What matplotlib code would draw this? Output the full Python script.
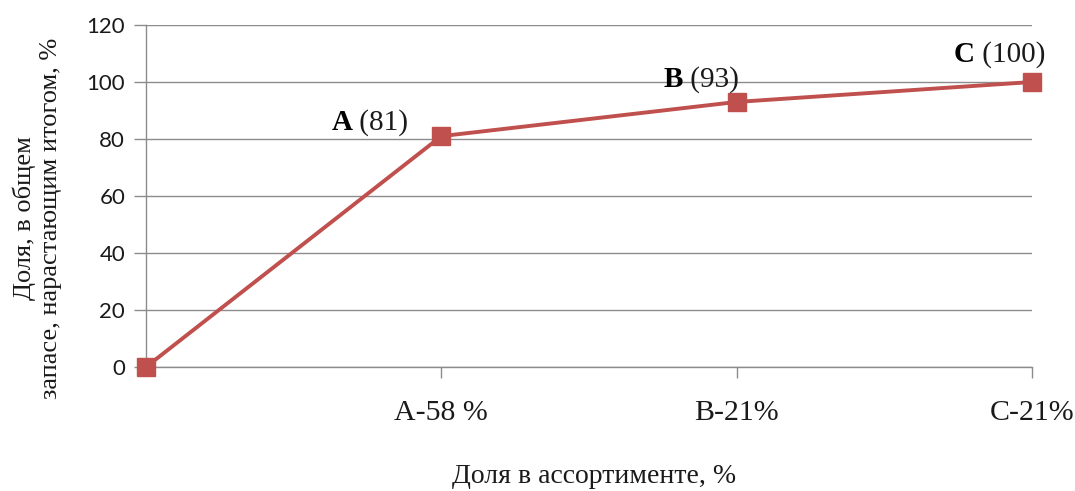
import matplotlib
matplotlib.use("Agg")
import matplotlib.pyplot as plt

# Cumulative share of stock vs. share of assortment (ABC analysis)
categories = ["", "A-58 %", "B-21%", "C-21%"]
cumulative_share = [0, 81, 93, 100]
group_names = ["", "A", "B", "C"]
y_ticks = [0, 20, 40, 60, 80, 100, 120]

line_color = "#C0504D"
grid_color = "#8C8C8C"
text_color = "#1A1A1A"
serif = "Liberation Serif"
sans = "Lato"

fig = plt.figure(figsize=(10.75, 4.91), dpi=100)
ax = fig.add_axes([146 / 1075, 1 - 367 / 491, (1032 - 146) / 1075, (367 - 25) / 491])

x = list(range(len(categories)))
ax.plot(x, cumulative_share, color=line_color, linewidth=2.8,
        marker="s", markersize=13.5, markeredgecolor=line_color,
        markerfacecolor=line_color, zorder=3, clip_on=False)

ax.set_xlim(0, len(categories) - 1)
ax.set_ylim(0, 120)
ax.set_yticks(y_ticks)
ax.set_yticklabels([str(v) for v in y_ticks], fontfamily=sans, fontsize=16)
ax.set_xticks(x[1:])
ax.set_xticklabels(categories[1:], fontfamily=serif, fontsize=21.5)

ax.grid(axis="y", color=grid_color, linewidth=1.0)
ax.set_axisbelow(True)
for side in ("top", "right"):
    ax.spines[side].set_visible(False)
for side in ("left", "bottom"):
    ax.spines[side].set_color(grid_color)
    ax.spines[side].set_linewidth(1.0)
ax.tick_params(axis="y", length=9, width=1.0, color=grid_color, pad=6, labelcolor=text_color)
ax.tick_params(axis="x", length=8, width=1.0, color=grid_color, pad=16, labelcolor=text_color)

# Point labels: bold group letter followed by the cumulative value
offsets = {1: (-33, 6), 2: (2, 15), 3: (13, 20)}
for i in range(1, len(categories)):
    dx, dy = offsets[i]
    value_text = ax.annotate(f" ({cumulative_share[i]})",
                             xy=(x[i], cumulative_share[i]), xytext=(dx, dy),
                             textcoords="offset pixels", ha="right", va="baseline",
                             fontsize=21, fontfamily=serif, color=text_color)
    ax.annotate(group_names[i],
                xy=(0, cumulative_share[i]), xycoords=(value_text, "data"),
                xytext=(0, dy), textcoords="offset pixels",
                ha="right", va="baseline", fontsize=21, fontfamily=serif,
                fontweight="bold", color="black")

fig.text(37 / 1075, 1 - 218 / 491, "Доля, в общем\nзапасе, нарастающим итогом, %",
         rotation=90, ha="center", va="center", multialignment="center",
         fontsize=19, fontfamily=serif, linespacing=1.25, color=text_color)
fig.text(594 / 1075, 1 - 483 / 491, "Доля в ассортименте, %",
         ha="center", va="baseline", fontsize=20, fontfamily=serif, color=text_color)

fig.savefig("out.png", dpi=100)
